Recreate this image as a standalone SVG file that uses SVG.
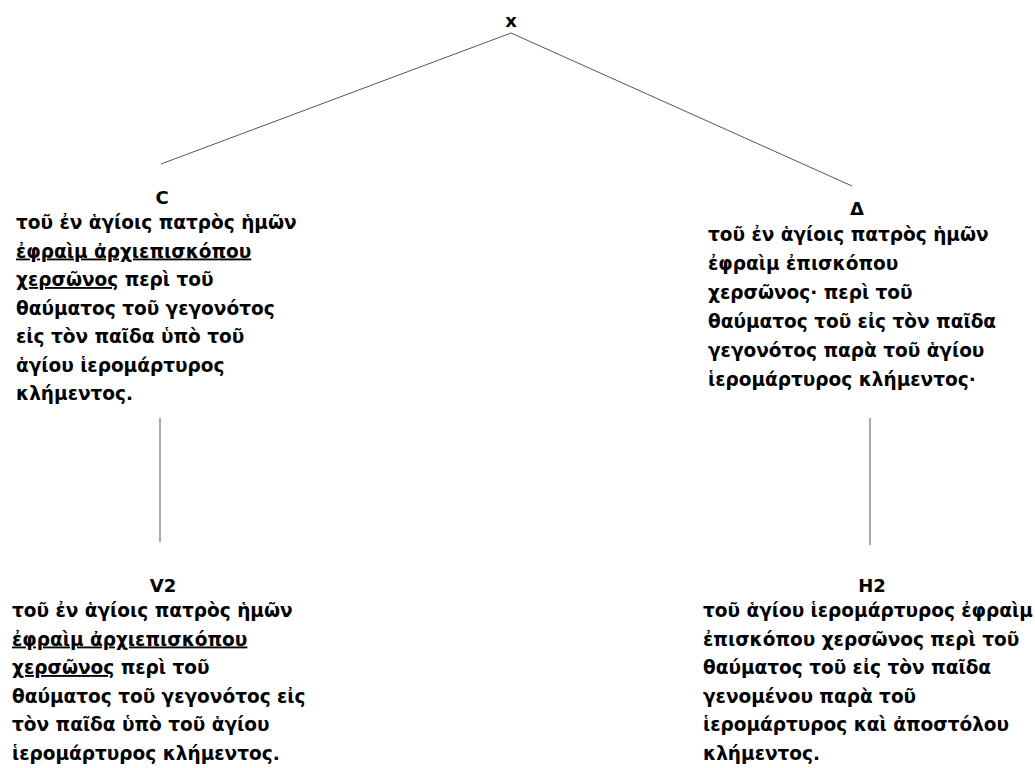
<svg xmlns="http://www.w3.org/2000/svg" width="1035" height="768" viewBox="0 0 1035 768">
<style>
text{font-family:"DejaVu Sans","Liberation Sans",sans-serif;font-weight:bold;font-size:18.5px;fill:#000}
.lbl{text-anchor:middle;font-size:18px}
.u{text-decoration:underline}
.edge{stroke:#555;stroke-width:1;fill:none}
</style>
<rect width="1035" height="768" fill="#fff"/>
<g id="connectors">
<line class="edge" x1="511" y1="33" x2="161" y2="164"/>
<line class="edge" x1="511" y1="33" x2="852" y2="186"/>
<line class="edge" x1="160" y1="418" x2="160" y2="542"/>
<line class="edge" x1="870" y1="418" x2="870" y2="545"/>
</g>
<g id="node-x"><text class="lbl" x="511" y="27">x</text></g>
<g id="node-C">
<text class="lbl" x="162" y="204">C</text>
<text x="16" y="229">τοῦ ἐν ἁγίοις πατρὸς ἡμῶν</text>
<text x="16" y="257.5"><tspan class="u">ἐφραὶμ ἀρχιεπισκόπου</tspan></text>
<text x="16" y="286"><tspan class="u">χερσῶνος</tspan> περὶ τοῦ</text>
<text x="16" y="314.5">θαύματος τοῦ γεγονότος</text>
<text x="16" y="343">εἰς τὸν παῖδα ὑπὸ τοῦ</text>
<text x="16" y="371.5">ἁγίου ἱερομάρτυρος</text>
<text x="16" y="400">κλήμεντος.</text>
</g>
<g id="node-D">
<text class="lbl" x="857" y="215">Δ</text>
<text x="708" y="241">τοῦ ἐν ἁγίοις πατρὸς ἡμῶν</text>
<text x="708" y="270">ἐφραὶμ ἐπισκόπου</text>
<text x="708" y="299">χερσῶνος· περὶ τοῦ</text>
<text x="708" y="328">θαύματος τοῦ εἰς τὸν παῖδα</text>
<text x="708" y="357">γεγονότος παρὰ τοῦ ἁγίου</text>
<text x="708" y="386">ἱερομάρτυρος κλήμεντος·</text>
</g>
<g id="node-V2">
<text class="lbl" x="163" y="592">V2</text>
<text x="12" y="617">τοῦ ἐν ἁγίοις πατρὸς ἡμῶν</text>
<text x="12" y="645.5"><tspan class="u">ἐφραὶμ ἀρχιεπισκόπου</tspan></text>
<text x="12" y="674"><tspan class="u">χερσῶνος</tspan> περὶ τοῦ</text>
<text x="12" y="702.5">θαύματος τοῦ γεγονότος εἰς</text>
<text x="12" y="731">τὸν παῖδα ὑπὸ τοῦ ἁγίου</text>
<text x="12" y="759.5">ἱερομάρτυρος κλήμεντος.</text>
</g>
<g id="node-H2">
<text class="lbl" x="872" y="592">H2</text>
<text x="703" y="617">τοῦ ἁγίου ἱερομάρτυρος ἐφραὶμ</text>
<text x="703" y="645.5">ἐπισκόπου χερσῶνος περὶ τοῦ</text>
<text x="703" y="674">θαύματος τοῦ εἰς τὸν παῖδα</text>
<text x="703" y="702.5">γενομένου παρὰ τοῦ</text>
<text x="703" y="731">ἱερομάρτυρος καὶ ἀποστόλου</text>
<text x="703" y="759.5">κλήμεντος.</text>
</g>
</svg>
